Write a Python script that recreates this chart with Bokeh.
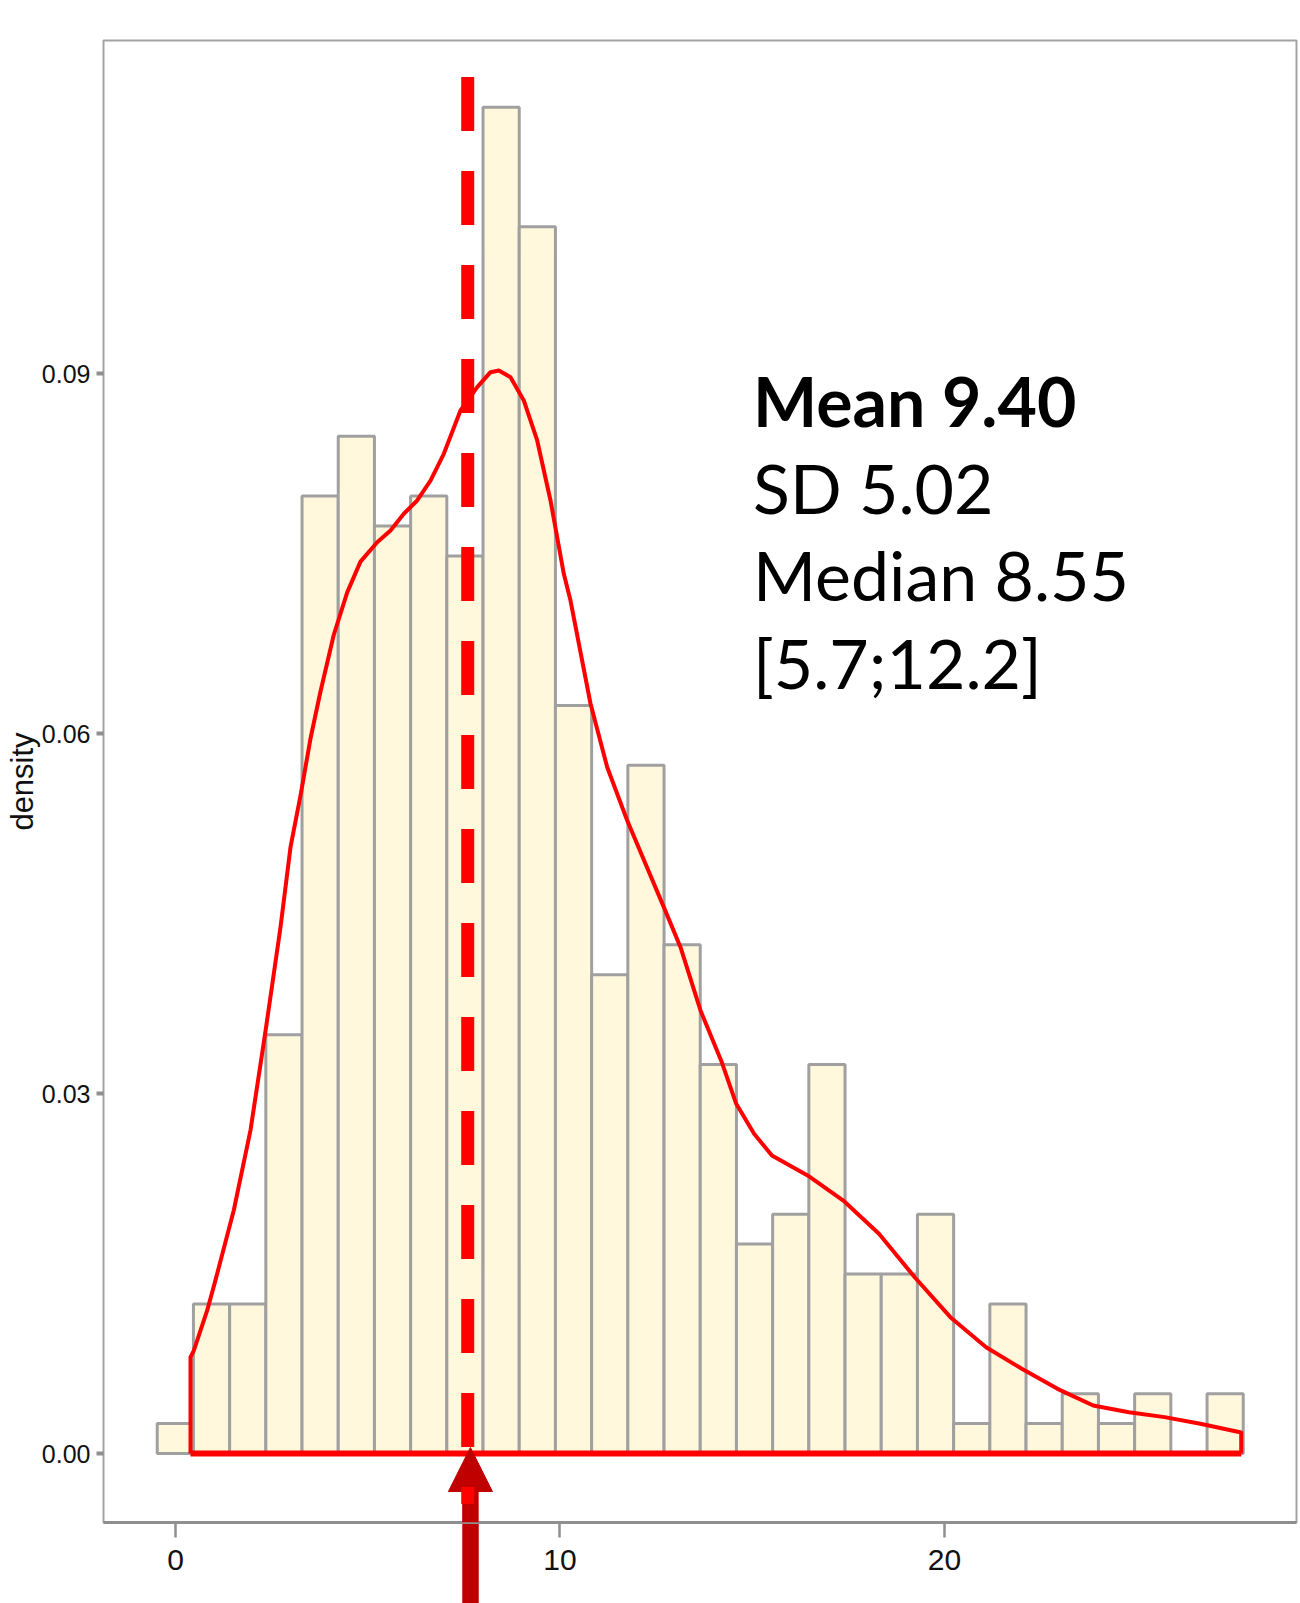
from bokeh.plotting import figure
from bokeh.models import (Range1d, FixedTicker, NumeralTickFormatter, Arrow,
                          NormalHead, ColumnDataSource, LinearAxis)
from bokeh.embed import file_html
from bokeh.resources import INLINE
from bokeh.core.properties import value

# ---------------- data ----------------
bin_start = -0.475
bin_width = 0.9415
bin_counts = [1, 5, 5, 14, 32, 34, 31, 32, 30, 45, 41, 25, 16, 23, 17,
              13, 7, 8, 13, 6, 6, 8, 1, 5, 1, 2, 1, 2, 0, 2]

curve_x = [0.390, 0.476, 0.824, 1.040, 1.516, 1.951, 2.341, 2.731, 2.991,
           3.251, 3.511, 3.771, 4.117, 4.466, 4.811, 5.246, 5.592, 5.938,
           6.286, 6.632, 6.978, 7.412, 7.847, 8.192, 8.408, 8.713, 9.059,
           9.407, 9.753, 10.099, 10.273, 10.793, 11.228, 11.748, 12.700,
           13.134, 13.654, 14.211, 14.583, 15.048, 15.511, 16.440, 17.368,
           18.296, 19.225, 20.153, 21.082, 22.010, 22.939, 23.867, 24.796,
           25.724, 26.653, 27.717]
curve_y = [0.00803, 0.00858, 0.01192, 0.01445, 0.02027, 0.02695, 0.03520,
           0.04385, 0.05053, 0.05483, 0.05958, 0.06350, 0.06823, 0.07176,
           0.07432, 0.07594, 0.07692, 0.07831, 0.07942, 0.08108, 0.08331,
           0.08692, 0.08886, 0.09011, 0.09025, 0.08969, 0.08775, 0.08442,
           0.07942, 0.07331, 0.07108, 0.06250, 0.05719, 0.05275, 0.04553,
           0.04219, 0.03692, 0.03258, 0.02914, 0.02664, 0.02483, 0.02317,
           0.02108, 0.01831, 0.01469, 0.01136, 0.00886, 0.00706, 0.00539,
           0.00400, 0.00344, 0.00303, 0.00248, 0.00175]

marker_x = 7.60          # dashed reference line
marker_top = 0.1147
marker_bottom = -0.0042
arrow_x = 7.67
arrow_tip = 0.0005

stats_lines = ["Mean 9.40", "SD 5.02", "Median 8.55", "[5.7;12.2]"]
stats_styles = ["bold", "normal", "normal", "normal"]
stats_x = 15.02
stats_y0 = 0.08775
stats_step = 0.00727

x_ticks = [0, 10, 20]
y_ticks = [0.0, 0.03, 0.06, 0.09]

# ---------------- derived ----------------
n_total = sum(bin_counts)
lefts = [bin_start + i * bin_width for i in range(len(bin_counts))]
rights = [l + bin_width for l in lefts]
dens = [c / (n_total * bin_width) for c in bin_counts]
hist_src = ColumnDataSource(dict(left=lefts, right=rights, top=dens,
                                 bottom=[0] * len(dens)))

TICK_FONT = "Liberation Sans"
AXIS_GREY = "#8f8f8f"
ARROW_RED = "#C00000"

x_lo, x_hi = -1.8726, 29.155
y_lo, y_hi = -0.00575, 0.11775

p = figure(frame_width=1193, frame_height=1482,
           x_range=Range1d(x_lo, x_hi), y_range=Range1d(y_lo, y_hi),
           output_backend="svg", toolbar_location=None,
           x_axis_location=None,
           min_border_left=103, min_border_right=4,
           min_border_top=40, min_border_bottom=81,
           background_fill_color="white", border_fill_color="white")

p.xgrid.visible = False
p.ygrid.visible = False
p.outline_line_color = "#a3a3a3"
p.outline_line_width = 2

# shaft of the arrow continuing below the panel: one long minor tick, no labels
shaft_axis = LinearAxis(ticker=FixedTicker(ticks=[], minor_ticks=[arrow_x]),
                        axis_line_color=None, major_tick_line_color=None,
                        major_tick_out=0, major_tick_in=0,
                        minor_tick_in=-100, minor_tick_out=0,
                        minor_tick_line_color=ARROW_RED,
                        minor_tick_line_width=16.5, minor_tick_line_cap="butt",
                        major_label_standoff=0)
p.add_layout(shaft_axis, "below")

# visible x axis
xaxis = LinearAxis(ticker=FixedTicker(ticks=x_ticks),
                   axis_line_color=AXIS_GREY, axis_line_width=3,
                   minor_tick_line_color=None,
                   major_tick_in=0, major_tick_out=15,
                   major_tick_line_color=AXIS_GREY, major_tick_line_width=2.5,
                   major_label_standoff=12,
                   major_label_text_font=TICK_FONT,
                   major_label_text_font_size="30px",
                   major_label_text_color="#111111")
p.add_layout(xaxis, "below")

# y axis
p.yaxis.ticker = FixedTicker(ticks=y_ticks)
p.yaxis.formatter = NumeralTickFormatter(format="0.00")
p.yaxis.minor_tick_line_color = None
p.yaxis.major_tick_in = 0
p.yaxis.major_tick_out = 7
p.yaxis.major_tick_line_color = AXIS_GREY
p.yaxis.major_tick_line_width = 4
p.yaxis.axis_line_color = None
p.yaxis.major_label_standoff = 6
p.yaxis.major_label_text_font = TICK_FONT
p.yaxis.major_label_text_font_size = "25px"
p.yaxis.major_label_text_color = "#111111"
p.yaxis.axis_label = "density"
p.yaxis.axis_label_text_font = "Liberation Sans"
p.yaxis.axis_label_text_font_style = "normal"
p.yaxis.axis_label_text_font_size = "31px"
p.yaxis.axis_label_text_color = "#111111"
p.yaxis.axis_label_standoff = -1

# histogram
p.quad(left="left", right="right", top="top", bottom="bottom", source=hist_src,
       fill_color="#FFF8DC", line_color="#a0a0a0", line_width=3)

# density outline (closed like ggplot's polygon)
p.line(x=[curve_x[0]] + curve_x + [curve_x[-1]],
       y=[0] + curve_y + [0],
       line_color="#FF0000", line_width=4, line_join="round")
p.line(x=[curve_x[0], curve_x[-1]], y=[0, 0],
       line_color="#FF0000", line_width=6)

# stats text
p.text(x=[stats_x] * len(stats_lines),
       y=[stats_y0 - i * stats_step for i in range(len(stats_lines))],
       text=stats_lines, text_font=value("Lato"), text_font_size="68px",
       text_font_style=stats_styles, text_baseline="alphabetic",
       text_color="black")

# arrow head + shaft inside the panel
arrow = Arrow(x_start=arrow_x, y_start=y_lo, x_end=arrow_x, y_end=arrow_tip,
              line_color=ARROW_RED, line_width=16.5, line_cap="butt",
              end=NormalHead(size=44, fill_color=ARROW_RED, line_color=ARROW_RED,
                             line_width=1))
p.add_layout(arrow)

# dashed vertical reference line on top
p.line(x=[marker_x, marker_x], y=[marker_top, marker_bottom],
       line_color="#FF0000", line_width=13, line_dash="54 40",
       line_cap="butt", level="overlay")

open("out.html", "w").write(file_html(p, INLINE))
